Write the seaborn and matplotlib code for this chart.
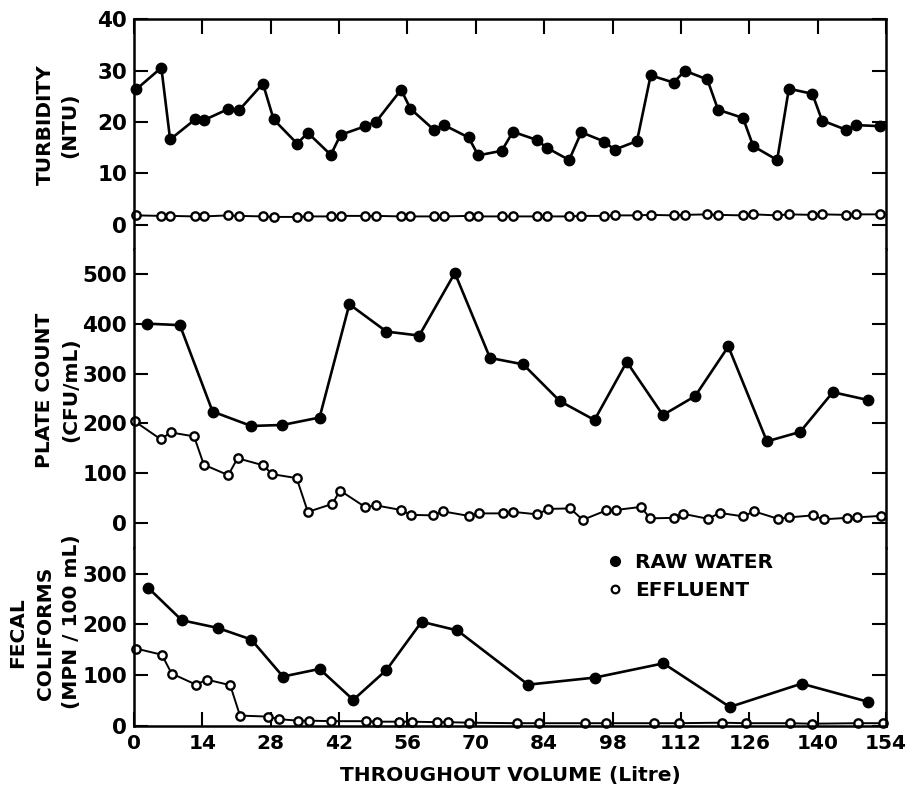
import matplotlib
matplotlib.use("Agg")
import matplotlib.pyplot as plt
from matplotlib.lines import Line2D
import numpy as np
import pandas as pd
import seaborn as sns

# ---------------- data ----------------
turb_volume = [0.5, 5.6, 7.4, 12.5, 14.4, 19.2, 21.5, 26.4, 28.6, 33.4, 35.6, 40.3, 42.3, 47.4,
               49.6, 54.7, 56.6, 61.4, 63.5, 68.5, 70.5, 75.3, 77.6, 82.5, 84.5, 89.1, 91.6, 96.3,
               98.4, 103.0, 105.8, 110.5, 112.8, 117.4, 119.6, 124.7, 126.8, 131.7, 134.1, 138.9,
               140.9, 145.8, 147.8, 152.8]
turb_raw = [26.4, 30.6, 16.6, 20.5, 20.4, 22.5, 22.3, 27.5, 20.5, 15.8, 17.9, 13.6, 17.5, 19.2,
            20.1, 26.3, 22.6, 18.5, 19.4, 17.0, 13.5, 14.4, 18.1, 16.5, 15.0, 12.6, 18.0, 16.2,
            14.6, 16.3, 29.1, 27.7, 30.0, 28.3, 22.4, 20.8, 15.3, 12.6, 26.5, 25.5, 20.3, 18.5,
            19.4, 19.2]
turb_eff = [1.8, 1.7, 1.7, 1.6, 1.6, 1.8, 1.7, 1.6, 1.5, 1.5, 1.6, 1.6, 1.7, 1.7,
            1.7, 1.6, 1.6, 1.6, 1.6, 1.7, 1.6, 1.6, 1.6, 1.6, 1.6, 1.6, 1.7, 1.7,
            1.8, 1.8, 1.9, 1.8, 1.9, 2.0, 1.9, 1.8, 2.0, 1.8, 2.0, 1.9, 2.0, 1.9,
            2.0, 2.0]

plate_raw_volume = [2.6, 9.4, 16.1, 24.0, 30.4, 38.0, 44.1, 51.7, 58.4, 65.7, 72.9, 79.7,
                    87.2, 94.3, 100.9, 108.3, 114.9, 121.7, 129.6, 136.4, 143.1, 150.4]
plate_raw = [401, 398, 224, 195, 197, 212, 440, 385, 377, 503, 332, 319,
             245, 207, 324, 217, 255, 355, 164, 183, 263, 247]
plate_eff_volume = [0.2, 5.5, 7.5, 12.3, 14.3, 19.3, 21.2, 26.4, 28.3, 33.3, 35.6, 40.6, 42.2,
                    47.3, 49.6, 54.6, 56.7, 61.3, 63.3, 68.5, 70.7, 75.5, 77.7, 82.6, 84.8, 89.3,
                    91.9, 96.7, 98.8, 103.8, 105.7, 110.6, 112.5, 117.6, 119.9, 124.7, 127.0,
                    131.9, 134.2, 139.0, 141.2, 146.0, 148.1, 152.9]
plate_eff = [204, 168, 182, 174, 117, 96, 130, 116, 98, 90, 22, 38, 65,
             32, 35, 26, 16, 15, 23, 14, 19, 19, 22, 17, 28, 29,
             6, 25, 26, 32, 9, 10, 18, 8, 20, 13, 23,
             8, 11, 15, 7, 10, 11, 14]

fecal_raw_volume = [2.9, 9.8, 17.1, 24.0, 30.5, 38.0, 44.9, 51.7, 58.9, 66.2, 80.7, 94.4,
                    108.4, 122.0, 136.7, 150.4]
fecal_raw = [272, 208, 193, 170, 97, 112, 51, 110, 205, 188, 81, 95, 123, 37, 83, 47]
fecal_eff_volume = [0.5, 5.7, 7.7, 12.7, 14.9, 19.7, 21.7, 27.5, 29.6, 33.6, 35.9, 40.3, 47.5,
                    49.7, 54.3, 56.9, 62.0, 64.4, 68.5, 78.4, 83.0, 92.4, 96.7, 106.5, 111.5,
                    120.4, 125.3, 134.3, 138.8, 148.3, 153.4]
fecal_eff = [152, 140, 103, 81, 91, 80, 20, 18, 13, 10, 10, 9, 9,
             8, 8, 8, 7, 7, 6, 5, 5, 5, 5, 5, 5,
             6, 5, 5, 4, 5, 5]

x_ticks = [0, 14, 28, 42, 56, 70, 84, 98, 112, 126, 140, 154]
turb_ticks = [0, 10, 20, 30, 40]
plate_ticks = [0, 100, 200, 300, 400, 500]
fecal_ticks = [0, 100, 200, 300]

# ---------------- style ----------------
sns.set_theme(style="ticks")
plt.rcParams["font.family"] = ["DejaVu Sans"]
plt.rcParams["font.weight"] = "bold"
plt.rcParams["axes.linewidth"] = 1.8
for k in ["text.color", "axes.labelcolor", "xtick.color", "ytick.color", "axes.edgecolor"]:
    plt.rcParams[k] = "black"

fig = plt.figure(figsize=(9.06, 7.88), dpi=100)
gs = fig.add_gridspec(3, 1, height_ratios=[229.5, 299, 177.5], hspace=0,
                      left=0.1479, right=0.978, top=0.9753, bottom=0.0787)
axes = [fig.add_subplot(gs[i]) for i in range(3)]

raw_kw = dict(color="black", lw=1.9, marker="o", markersize=7.5,
              markerfacecolor="black", markeredgecolor="black", markeredgewidth=1,
              clip_on=False, legend=False, sort=False)
eff_kw = dict(color="black", lw=1.4, marker="o", markersize=6,
              markerfacecolor="white", markeredgecolor="black", markeredgewidth=1.7,
              clip_on=False, legend=False, sort=False)

panels = [
    (turb_volume, turb_raw, turb_volume, turb_eff, (-4.78, 40), turb_ticks),
    (plate_raw_volume, plate_raw, plate_eff_volume, plate_eff, (-51.4, 551), plate_ticks),
    (fecal_raw_volume, fecal_raw, fecal_eff_volume, fecal_eff, (-0.5, 349.8), fecal_ticks),
]

for i, (ax, (xr, yr, xe, ye, ylim, yt)) in enumerate(zip(axes, panels)):
    df_r = pd.DataFrame({"volume": xr, "value": yr})
    df_e = pd.DataFrame({"volume": xe, "value": ye})
    sns.lineplot(data=df_e, x="volume", y="value", ax=ax, **eff_kw)
    sns.lineplot(data=df_r, x="volume", y="value", ax=ax, **raw_kw)
    ax.set_xlim(0, 154)
    ax.set_ylim(*ylim)
    ax.set_yticks(yt)
    ax.set_xticks(x_ticks)
    ax.set_xlabel("")
    ax.set_ylabel("")
    for s in ax.spines.values():
        s.set_linewidth(1.8)
        s.set_color("black")
    ax.tick_params(axis="y", which="both", direction="in", length=10, width=1.5,
                   left=True, right=True, labelsize=15.5, pad=5, colors="black")
    if i == 0:
        ax.spines["bottom"].set_visible(False)
        ax.tick_params(axis="x", direction="in", top=True, bottom=False,
                       labelbottom=False, labeltop=False, length=11, width=1.5)
    elif i == 1:
        ax.spines["top"].set_visible(False)
        ax.spines["bottom"].set_visible(False)
        ax.tick_params(axis="x", top=False, bottom=False, labelbottom=False)
    else:
        ax.spines["top"].set_visible(False)
        ax.tick_params(axis="x", direction="in", top=False, bottom=True,
                       labelbottom=True, length=10, width=1.5, labelsize=14.5, pad=6,
                       colors="black")

axes[2].set_xlabel("THROUGHOUT VOLUME (Litre)", fontsize=14.5, fontweight="bold",
                   labelpad=9, color="black")

# y-axis titles
W, H = 906.0, 788.0
def ftext(px, py, s):
    fig.text(px / W, 1 - py / H, s, rotation=90, ha="center", va="center",
             fontsize=14.5, fontweight="bold", color="black")

ftext(45, 125, "TURBIDITY")
ftext(70, 125, "(NTU)")
ftext(45, 390, "PLATE COUNT")
ftext(71, 390, "(CFU/mL)")
ftext(18, 633, "FECAL")
ftext(46, 633, "COLIFORMS")
ftext(72, 622, "(MPN / 100 mL)")

# legend
handles = [Line2D([], [], ls="none", marker="o", color="black", markersize=7),
           Line2D([], [], ls="none", marker="o", markerfacecolor="white",
                  markeredgecolor="black", markeredgewidth=1.6, markersize=5.5)]
leg = axes[2].legend(handles, ["RAW WATER", "EFFLUENT"], loc="upper left",
                     bbox_to_anchor=(607 / W, 1 - 553 / H), bbox_transform=fig.transFigure,
                     frameon=False, fontsize=14.5, handlelength=0.8, handletextpad=0.6,
                     labelspacing=0.45, borderpad=0, borderaxespad=0)
for t in leg.get_texts():
    t.set_color("black")

fig.savefig("out.png", dpi=100)
